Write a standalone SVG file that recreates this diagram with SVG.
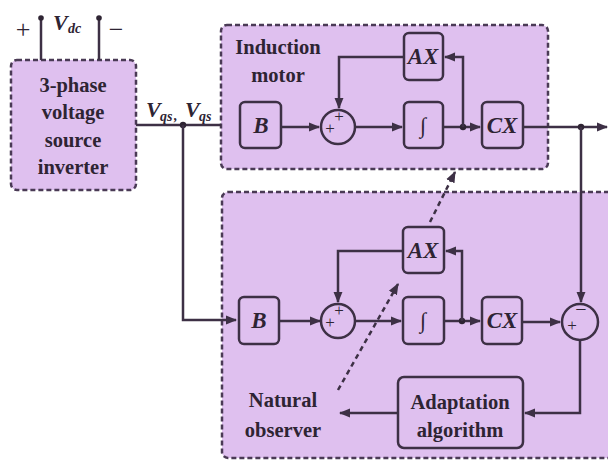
<svg xmlns="http://www.w3.org/2000/svg" width="608" height="461" viewBox="0 0 608 461" font-family="'Liberation Serif', 'Times New Roman', serif">
<defs>
<style>
.grp{fill:#dfc0ef;stroke:#4a3a55;stroke-width:2.5;stroke-dasharray:5 3}
.blk{fill:#dfc0ef;stroke:#3d3045;stroke-width:2.5}
.ln{fill:none;stroke:#3d3045;stroke-width:2.5}
.dl{fill:none;stroke:#3d3045;stroke-width:2.5;stroke-dasharray:5 4}
.t{font-family:'Liberation Serif','Times New Roman',serif;font-weight:bold;fill:#2e2433;font-size:20.5px;text-anchor:middle}
.v{font-family:'Liberation Serif','Times New Roman',serif;font-weight:bold;font-style:italic;fill:#2e2433;text-anchor:middle;font-size:23px}
.s{font-family:'Liberation Serif','Times New Roman',serif;fill:#2e2433;font-size:17px;text-anchor:middle}
.sub{font-family:'Liberation Serif','Times New Roman',serif;fill:#2e2433;font-size:14px;font-weight:bold;font-style:italic}
.dot{fill:#2e2433}
</style>
<marker id="ar" viewBox="0 0 10 10" refX="9" refY="5" markerWidth="4.6" markerHeight="4.6" orient="auto" markerUnits="strokeWidth">
<path d="M0,1 L10,5 L0,9 Z" fill="#3d3045"/>
</marker>
</defs>
<rect width="608" height="461" fill="#ffffff"/>

<g id="inverter">
<rect class="grp" x="11" y="60" width="125" height="130" rx="6"/>
<text class="t" x="73" y="92">3-phase</text>
<text class="t" x="73" y="119">voltage</text>
<text class="t" x="73" y="147">source</text>
<text class="t" x="73" y="174">inverter</text>
</g>

<g id="motor">
<rect class="grp" x="221" y="25" width="327" height="144" rx="6"/>
<text class="t" x="278" y="54">Induction</text>
<text class="t" x="278" y="82">motor</text>
</g>

<g id="observer">
<rect class="grp" x="222" y="192" width="400" height="266" rx="6"/>
<text class="t" x="283" y="407">Natural</text>
<text class="t" x="283" y="437">observer</text>
</g>

<g id="connectors">
<line class="ln" x1="41" y1="18" x2="41" y2="60"/>
<line class="ln" x1="99" y1="18" x2="99" y2="60"/>
<circle class="dot" cx="41" cy="18" r="2.8"/>
<circle class="dot" cx="99" cy="18" r="2.8"/>
<line class="ln" x1="136" y1="125" x2="221" y2="125"/>
<circle class="dot" cx="183" cy="125" r="3.2"/>
<polyline class="ln" points="183,125 183,320 236,320" marker-end="url(#ar)"/>
<line class="ln" x1="281" y1="127" x2="319" y2="127" marker-end="url(#ar)"/>
<line class="ln" x1="355" y1="127" x2="402" y2="127" marker-end="url(#ar)"/>
<line class="ln" x1="443" y1="127" x2="480" y2="127" marker-end="url(#ar)"/>
<circle class="dot" cx="463" cy="127" r="3.2"/>
<polyline class="ln" points="463,127 463,57 445,57" marker-end="url(#ar)"/>
<polyline class="ln" points="404,57 339,57 339,108" marker-end="url(#ar)"/>
<line class="ln" x1="523" y1="127" x2="607" y2="127" marker-end="url(#ar)"/>
<circle class="dot" cx="581" cy="127" r="3.2"/>
<line class="ln" x1="581" y1="127" x2="581" y2="302" marker-end="url(#ar)"/>
<line class="ln" x1="279" y1="321" x2="320" y2="321" marker-end="url(#ar)"/>
<line class="ln" x1="356" y1="321" x2="401" y2="321" marker-end="url(#ar)"/>
<line class="ln" x1="444" y1="321" x2="480" y2="321" marker-end="url(#ar)"/>
<circle class="dot" cx="462" cy="321" r="3.2"/>
<polyline class="ln" points="462,321 462,251 446,251" marker-end="url(#ar)"/>
<polyline class="ln" points="403,251 338,251 338,302" marker-end="url(#ar)"/>
<line class="ln" x1="522" y1="322" x2="560" y2="322" marker-end="url(#ar)"/>
<polyline class="ln" points="580,340 580,413 525,413" marker-end="url(#ar)"/>
<line class="ln" x1="398" y1="413" x2="340" y2="413" marker-end="url(#ar)"/>
<line class="dl" x1="338" y1="390" x2="398" y2="284" marker-end="url(#ar)"/>
<line class="dl" x1="430" y1="222" x2="455" y2="172" marker-end="url(#ar)"/>
</g>

<g id="labels">
<text class="s" x="23" y="38" style="font-size:26px">+</text>
<text class="s" x="116" y="38" style="font-size:26px">−</text>
<text class="v" x="53" y="30" style="font-size:22px;text-anchor:start">V</text>
<text class="sub" x="68" y="33">dc</text>
<text class="v" x="146" y="117" style="font-size:22px;text-anchor:start">V</text>
<text class="sub" x="160" y="121">qs</text>
<text class="sub" x="174" y="120">,</text>
<text class="v" x="185" y="117" style="font-size:22px;text-anchor:start">V</text>
<text class="sub" x="199" y="121">qs</text>
</g>

<g id="m_B"><rect class="blk" x="240" y="102" width="41" height="46" rx="5"/><text class="v" x="261" y="133">B</text></g>
<g id="m_sum"><circle class="blk" cx="338" cy="127" r="17"/><text class="s" x="339" y="122">+</text><text class="s" x="330" y="134">+</text></g>
<g id="m_int"><rect class="blk" x="404" y="102" width="39" height="46" rx="5"/><text class="s" x="423" y="133" style="font-size:22px">∫</text></g>
<g id="m_AX"><rect class="blk" x="404" y="33" width="39" height="47" rx="5"/><text class="v" x="423" y="64">AX</text></g>
<g id="m_CX"><rect class="blk" x="482" y="102" width="41" height="46" rx="5"/><text class="v" x="502" y="133">CX</text></g>

<g id="o_B"><rect class="blk" x="239" y="297" width="40" height="47" rx="5"/><text class="v" x="259" y="328">B</text></g>
<g id="o_sum"><circle class="blk" cx="338" cy="321" r="17"/><text class="s" x="339" y="316">+</text><text class="s" x="330" y="328">+</text></g>
<g id="o_int"><rect class="blk" x="403" y="297" width="41" height="47" rx="5"/><text class="s" x="423" y="328" style="font-size:22px">∫</text></g>
<g id="o_AX"><rect class="blk" x="403" y="227" width="41" height="46" rx="5"/><text class="v" x="423" y="258">AX</text></g>
<g id="o_CX"><rect class="blk" x="482" y="297" width="40" height="47" rx="5"/><text class="v" x="502" y="328">CX</text></g>
<g id="o_err"><circle class="blk" cx="580" cy="322" r="18"/><text class="s" x="581" y="316" style="font-size:20px">−</text><text class="s" x="572" y="331">+</text></g>
<g id="adapt"><rect class="blk" x="398" y="377" width="125" height="71" rx="6"/><text class="t" x="460" y="409">Adaptation</text><text class="t" x="460" y="437">algorithm</text></g>
</svg>
